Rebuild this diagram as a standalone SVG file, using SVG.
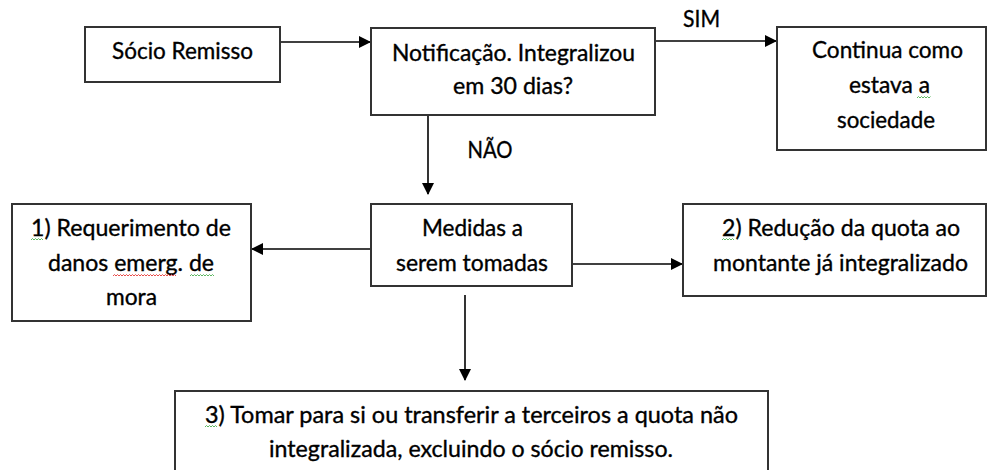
<svg xmlns="http://www.w3.org/2000/svg" width="987" height="470" viewBox="0 0 987 470">
<style>
.box{fill:#fff;stroke:#333;stroke-width:2}
.t{font-family:Lato,"Open Sans","Liberation Sans",sans-serif;font-size:23px;fill:#000;stroke:#000;stroke-width:0.35;text-anchor:middle}
.c{stroke:#000;stroke-width:1.6;fill:none}
.sqg{fill:none;stroke:#4caf50;stroke-width:0.9}
.sqr{fill:none;stroke:#e53935;stroke-width:0.9}
</style>
<defs>
<marker id="ah" markerWidth="12" markerHeight="12" refX="11" refY="6" orient="auto" markerUnits="userSpaceOnUse">
<path d="M0,0 L12,6 L0,12 Z" fill="#000"/>
</marker>
</defs>
<rect width="987" height="470" fill="#fff"/>

<g id="connectors">
<line class="c" x1="280" y1="42" x2="370" y2="42" marker-end="url(#ah)"/>
<line class="c" x1="655" y1="41" x2="776" y2="41" marker-end="url(#ah)"/>
<line class="c" x1="428" y1="103" x2="428" y2="194" marker-end="url(#ah)"/>
<line class="c" x1="371" y1="249" x2="252" y2="249" marker-end="url(#ah)"/>
<line class="c" x1="572" y1="264" x2="682" y2="264" marker-end="url(#ah)"/>
<line class="c" x1="465" y1="295" x2="465" y2="380" marker-end="url(#ah)"/>
<text class="t" x="701.5" y="27" textLength="37" lengthAdjust="spacingAndGlyphs">SIM</text>
<text class="t" x="490" y="158" textLength="45" lengthAdjust="spacingAndGlyphs">NÃO</text>
</g>

<g id="socio">
<rect class="box" x="85" y="27" width="195" height="55"/>
<text class="t" x="182.5" y="59" textLength="141" lengthAdjust="spacingAndGlyphs">Sócio Remisso</text>
</g>

<g id="notificacao">
<rect class="box" x="371" y="28" width="284" height="87"/>
<text class="t" x="513.5" y="61" textLength="243" lengthAdjust="spacingAndGlyphs">Notificação. Integralizou</text>
<text class="t" x="513" y="94" textLength="120" lengthAdjust="spacingAndGlyphs">em 30 dias?</text>
</g>

<g id="continua">
<rect class="box" x="777" y="27" width="209" height="123"/>
<text class="t" x="887.5" y="58" textLength="151" lengthAdjust="spacingAndGlyphs">Continua como</text>
<text class="t" x="889.5" y="93" textLength="81" lengthAdjust="spacingAndGlyphs">estava a</text>
<text class="t" x="886" y="128" textLength="98" lengthAdjust="spacingAndGlyphs">sociedade</text>
<path class="sqg" d="M917,98 l1.5,-1.5 l1.5,1.5 l1.5,-1.5 l1.5,1.5 l1.5,-1.5 l1.5,1.5 l1.5,-1.5 l1.5,1.5 l1.5,-1.5"/>
</g>

<g id="requerimento">
<rect class="box" x="12" y="204" width="239" height="117"/>
<text class="t" x="131" y="236" textLength="200" lengthAdjust="spacingAndGlyphs">1) Requerimento de</text>
<text class="t" x="131" y="271" textLength="166" lengthAdjust="spacingAndGlyphs">danos emerg. de</text>
<text class="t" x="131.5" y="305" textLength="51" lengthAdjust="spacingAndGlyphs">mora</text>
<path class="sqg" d="M31,240 l1.5,-1.5 l1.5,1.5 l1.5,-1.5 l1.5,1.5 l1.5,-1.5 l1.5,1.5 l1.5,-1.5 l1.5,1.5"/>
<path class="sqr" d="M113,276 l1.5,-1.5 l1.5,1.5 l1.5,-1.5 l1.5,1.5 l1.5,-1.5 l1.5,1.5 l1.5,-1.5 l1.5,1.5 l1.5,-1.5 l1.5,1.5 l1.5,-1.5 l1.5,1.5 l1.5,-1.5 l1.5,1.5 l1.5,-1.5 l1.5,1.5 l1.5,-1.5 l1.5,1.5 l1.5,-1.5 l1.5,1.5 l1.5,-1.5 l1.5,1.5 l1.5,-1.5 l1.5,1.5 l1.5,-1.5 l1.5,1.5 l1.5,-1.5 l1.5,1.5 l1.5,-1.5 l1.5,1.5 l1.5,-1.5 l1.5,1.5 l1.5,-1.5 l1.5,1.5 l1.5,-1.5 l1.5,1.5 l1.5,-1.5 l1.5,1.5 l1.5,-1.5 l1.5,1.5 l1.5,-1.5 l1.5,1.5"/>
<path class="sqg" d="M190,276 l1.5,-1.5 l1.5,1.5 l1.5,-1.5 l1.5,1.5 l1.5,-1.5 l1.5,1.5 l1.5,-1.5 l1.5,1.5 l1.5,-1.5 l1.5,1.5 l1.5,-1.5 l1.5,1.5 l1.5,-1.5 l1.5,1.5 l1.5,-1.5 l1.5,1.5"/>
</g>

<g id="medidas">
<rect class="box" x="371" y="204" width="201" height="82"/>
<text class="t" x="472.5" y="236" textLength="101" lengthAdjust="spacingAndGlyphs">Medidas a</text>
<text class="t" x="472" y="271" textLength="152" lengthAdjust="spacingAndGlyphs">serem tomadas</text>
</g>

<g id="reducao">
<rect class="box" x="683" y="204" width="303" height="92"/>
<text class="t" x="841" y="236" textLength="238" lengthAdjust="spacingAndGlyphs">2) Redução da quota ao</text>
<text class="t" x="840.5" y="271" textLength="255" lengthAdjust="spacingAndGlyphs">montante já integralizado</text>
<path class="sqg" d="M722,240 l1.5,-1.5 l1.5,1.5 l1.5,-1.5 l1.5,1.5 l1.5,-1.5 l1.5,1.5 l1.5,-1.5 l1.5,1.5"/>
</g>

<g id="tomar">
<rect class="box" x="175" y="391" width="593" height="90"/>
<text class="t" x="471.5" y="423" textLength="533" lengthAdjust="spacingAndGlyphs">3) Tomar para si ou transferir a terceiros a quota não</text>
<text class="t" x="471" y="457" textLength="404" lengthAdjust="spacingAndGlyphs">integralizada, excluindo o sócio remisso.</text>
<path class="sqg" d="M205,427 l1.5,-1.5 l1.5,1.5 l1.5,-1.5 l1.5,1.5 l1.5,-1.5 l1.5,1.5 l1.5,-1.5 l1.5,1.5"/>
</g>
</svg>
